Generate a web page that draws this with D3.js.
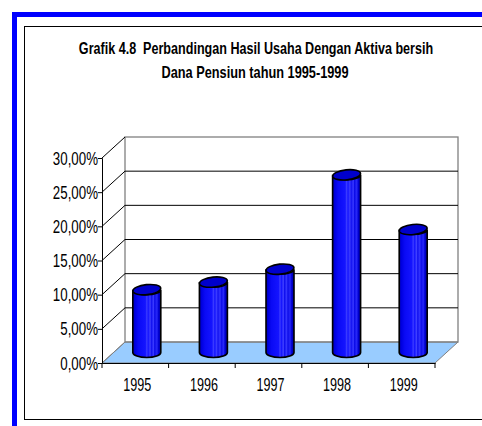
<!DOCTYPE html>
<html><head><meta charset="utf-8">
<script src="https://cdn.jsdelivr.net/npm/d3@7"></script>
<style>
html,body{margin:0;padding:0;background:#fff;}
svg{display:block;}
text{font-family:"Liberation Sans",Arial,sans-serif;white-space:pre;}
</style></head>
<body>
<script>
const titleLines = ["Grafik 4.8  Perbandingan Hasil Usaha Dengan Aktiva bersih", "Dana Pensiun tahun 1995-1999"];
const years = ["1995", "1996", "1997", "1998", "1999"];
const values = [9.2, 10.3, 12.2, 26.0, 18.0];
const yTicks = [0, 5, 10, 15, 20, 25, 30];

const W = 482, H = 426;
const svg = d3.select("body").append("svg").attr("width", W).attr("height", H);

// frame
svg.append("rect").attr("x", 0).attr("y", 0).attr("width", W).attr("height", H).attr("fill", "#fff");
svg.append("rect").attr("x", 12).attr("y", 12).attr("width", W).attr("height", H).attr("fill", "#0000FF");
svg.append("rect").attr("x", 17).attr("y", 17).attr("width", W).attr("height", H).attr("fill", "#fff");
svg.append("rect").attr("x", 24.5).attr("y", 26.5).attr("width", W).attr("height", 393).attr("fill", "#fff").attr("stroke", "#000").attr("stroke-width", 1);

// narrow text via horizontal scaling (anchor-aware)
function narrowText(parent, str, px, py, size, k, anchor, bold) {
  const g = parent.append("g").attr("transform", `translate(${px},${py}) scale(${k},1)`);
  return g.append("text").attr("x", 0).attr("y", 0).attr("text-anchor", anchor)
    .attr("font-size", size).attr("font-weight", bold ? "bold" : "normal").attr("fill", "#000").text(str);
}

// title
narrowText(svg, titleLines[0], 256, 54, 17, 0.74, "middle", true);
narrowText(svg, titleLines[1], 255, 78, 17, 0.75, "middle", true);

// scales
const x = d3.scaleBand().domain(years).range([102, 435]).padding(0);
const y = d3.scaleLinear().domain([0, 30]).range([363, 158]);
const dx = 23, dy = -21;

// gradient for cylinders
const defs = svg.append("defs");
const g = defs.append("linearGradient").attr("id", "cyl").attr("x1", "0").attr("x2", "1").attr("y1", "0").attr("y2", "0");
[[0, "#0000A8"], [0.08, "#0000E0"], [0.2, "#0A0AF5"], [0.45, "#1414FF"], [0.5, "#3C3CFF"], [0.55, "#1414FF"],
 [0.62, "#4040FF"], [0.66, "#1010F0"], [0.74, "#3838FF"], [0.78, "#0C0CE8"], [0.86, "#2828F8"], [0.92, "#0000D0"], [1, "#0000A0"]]
  .forEach(([o, c]) => g.append("stop").attr("offset", o).attr("stop-color", c));

// floor
const x0 = x.range()[0], x1 = x.range()[1], yb = y(0);
svg.append("path")
  .attr("d", `M${x0},${yb} L${x1},${yb} L${x1 + dx},${yb + dy} L${x0 + dx},${yb + dy} Z`)
  .attr("fill", "#99CCFF").attr("stroke", "#808080").attr("stroke-width", 1);

// back wall
svg.append("rect").attr("x", x0 + dx).attr("y", y(30) + dy).attr("width", x1 - x0).attr("height", y(0) - y(30))
  .attr("fill", "none").attr("stroke", "#808080").attr("stroke-width", 1.3);
svg.append("g").selectAll("line").data(yTicks.filter(t => t > 0 && t < 30)).join("line")
  .attr("x1", x0 + dx).attr("x2", x1 + dx).attr("y1", d => y(d) + dy).attr("y2", d => y(d) + dy)
  .attr("stroke", "#000").attr("stroke-width", 1);
svg.append("g").selectAll("line").data(yTicks).join("line")
  .attr("x1", x0).attr("y1", d => y(d)).attr("x2", x0 + dx).attr("y2", d => y(d) + dy)
  .attr("stroke", d => d === 0 ? "#808080" : "#000").attr("stroke-width", 1);

// y axis (ticks + domain via d3 axis, labels narrowed)
const fmt = d => d.toFixed(2).replace(".", ",") + "%";
const yAxis = d3.axisLeft(y).tickValues(yTicks).tickSize(4).tickFormat("");
const ya = svg.append("g").attr("transform", `translate(${x0},0)`).call(yAxis);
ya.select(".domain").attr("stroke", "#000");
yTicks.forEach(t => narrowText(svg, fmt(t), x0 - 4, y(t) + 6.5, 18, 0.74, "end", false));

// x axis
const xAxis = d3.axisBottom(x).tickSize(0).tickFormat("");
const xa = svg.append("g").attr("transform", `translate(0,${yb})`).call(xAxis);
xa.select(".domain").attr("stroke", "#000");
xa.append("g").selectAll("line").data(d3.range(years.length + 1)).join("line")
  .attr("x1", i => x0 + i * x.step()).attr("x2", i => x0 + i * x.step()).attr("y1", 0).attr("y2", 5)
  .attr("stroke", "#000");
years.forEach(yr => narrowText(svg, yr, x(yr) + x.bandwidth() / 2 + 2, 391, 18, 0.7, "middle", false));

// cylinders
const r = 14, ry = 5;
const cyl = svg.append("g").selectAll("g").data(years.map((yr, i) => ({ yr, v: values[i] }))).join("g");
cyl.append("path")
  .attr("d", d => {
    const cx = x(d.yr) + x.bandwidth() / 2 + dx / 2;
    const ybase = y(0) + dy / 2, ytop = y(d.v) + dy / 2;
    return `M${cx - r},${ytop} L${cx - r},${ybase} A${r},${ry} 0 0 0 ${cx + r},${ybase} L${cx + r},${ytop} A${r},${ry} 0 0 1 ${cx - r},${ytop} Z`;
  })
  .attr("fill", "url(#cyl)").attr("stroke", "#000").attr("stroke-width", 1.6);
cyl.append("ellipse")
  .attr("cx", d => x(d.yr) + x.bandwidth() / 2 + dx / 2)
  .attr("cy", d => y(d.v) + dy / 2)
  .attr("rx", r).attr("ry", ry)
  .attr("transform", d => `rotate(-6 ${x(d.yr) + x.bandwidth() / 2 + dx / 2} ${y(d.v) + dy / 2})`)
  .attr("fill", "#0000CC").attr("stroke", "#000").attr("stroke-width", 1.6);
</script>
</body></html>
